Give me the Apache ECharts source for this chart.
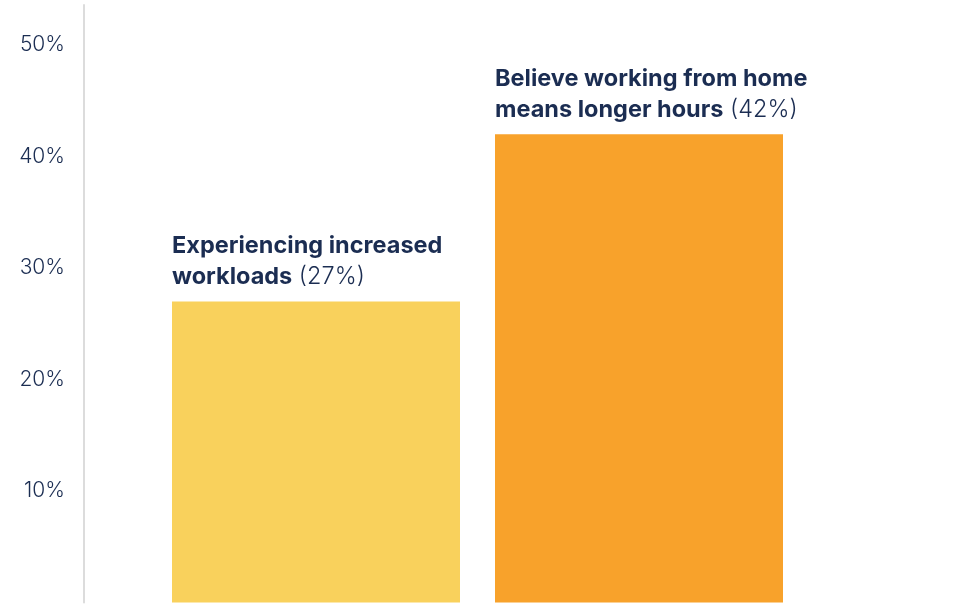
<!DOCTYPE html>
<html>
<head>
<meta charset="utf-8">
<script src="https://cdn.jsdelivr.net/npm/echarts@6/dist/echarts.min.js"></script>
<style>
  html, body { margin: 0; padding: 0; background: #fff; }
  #chart { width: 955px; height: 605px; }
</style>
</head>
<body>
<div id="chart"></div>
<script>
// data
const categories = ['Experiencing increased\nworkloads', 'Believe working from home\nmeans longer hours']
const values = [27, 42]
const barColors = ['#f9d15c', '#f8a22b']

const textColor = '#1b2d52'

let chart = echarts.init(document.getElementById('chart'))

// name in bold, value in regular weight on the last line
const labelText = (p) => {
  let lines = p.name.split('\n')
  let out = lines.map(l => '{b|' + l + '}')
  out[out.length - 1] += '{n| (' + p.value + '%)}'
  return out.join('\n')
}

let option = {
  animation: false,
  grid: {
    left: 154.5,
    right: 154.5,
    top: 5,
    bottom: 2.5
  },
  xAxis: {
    type: 'category',
    data: categories,
    axisLine: {show: false},
    axisTick: {show: false},
    axisLabel: {show: false}
  },
  yAxis: {
    type: 'value',
    min: 0,
    max: 53.6,
    interval: 10,
    offset: 70.5,
    splitLine: {show: false},
    axisTick: {show: false},
    axisLine: {show: true, lineStyle: {color: '#dcdcdc', width: 2}},
    axisLabel: {
      showMinLabel: false,
      showMaxLabel: false,
      margin: 19,
      color: textColor,
      fontFamily: 'Inter',
      fontWeight: 300,
      fontSize: 21,
      formatter: '{value}%'
    }
  },
  series: [
    {
      type: 'bar',
      barWidth: 288,
      data: values.map((v, i) => ({value: v, itemStyle: {color: barColors[i]}})),
      label: {
        show: true,
        position: [0, -9],
        align: 'left',
        verticalAlign: 'bottom',
        formatter: labelText,
        rich: {
          b: {fontFamily: 'Inter', fontWeight: 'bold', fontSize: 23.5, color: textColor, lineHeight: 31},
          n: {fontFamily: 'Inter', fontWeight: 300, fontSize: 23.5, color: textColor, lineHeight: 31}
        }
      }
    }
  ]
}
chart.setOption(option)
</script>
</body>
</html>
